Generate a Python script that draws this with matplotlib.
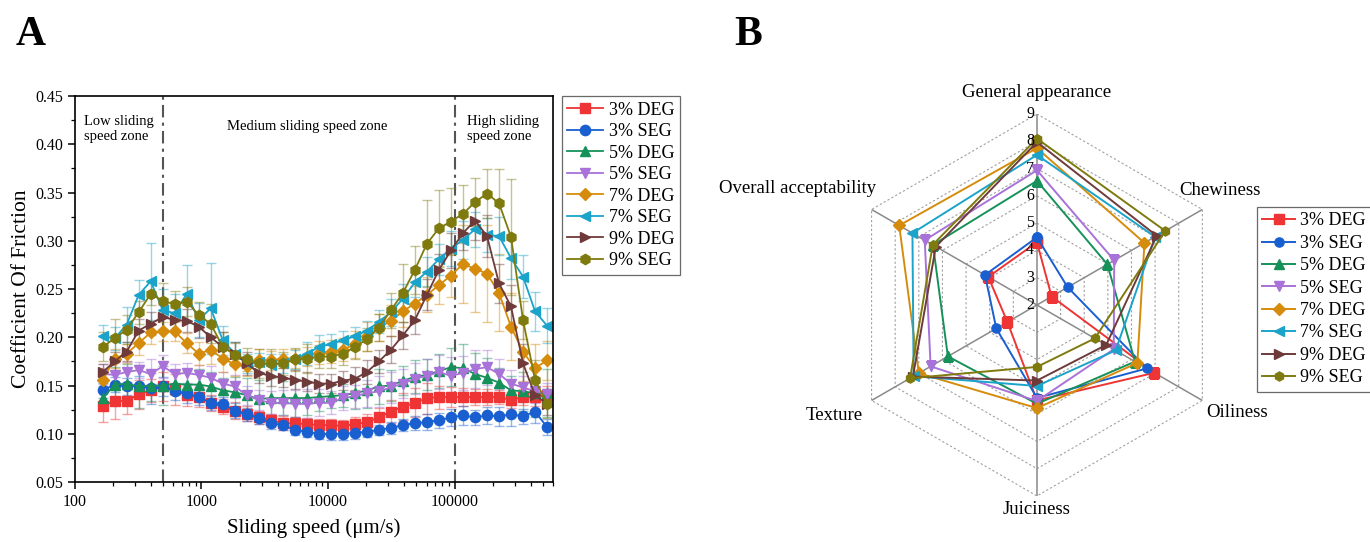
import numpy as np
import matplotlib
matplotlib.use("Agg")
import matplotlib.pyplot as plt
from matplotlib.colors import to_rgba
from matplotlib.ticker import FixedLocator, LogLocator, NullFormatter, MultipleLocator

plt.rcParams['font.family'] = ['Liberation Serif', 'DejaVu Serif']

# ---- panel A data: coefficient of friction vs sliding speed ----
speed = [166, 206, 256, 319, 397, 494, 614, 764, 951, 1183,
         1472, 1832, 2279, 2836, 3529, 4390, 5463, 6797, 8457, 10522,
         13092, 16290, 20268, 25219, 31378, 39042, 48577, 60441, 75204, 93571,
         116425, 144860, 180240, 224262, 279035, 347186, 431982, 537484]

labels = ['3% DEG', '3% SEG', '5% DEG', '5% SEG', '7% DEG', '7% SEG', '9% DEG', '9% SEG']
colors = ['#EE3434', '#1A5FD0', '#16915A', '#A872D8', '#D58C0C', '#1BA3C9', '#6E3A3A', '#7F7A0E']
markers = ['s', 'o', '^', 'v', 'D', '<', '>', 'h']

cof_3deg = [0.129, 0.134, 0.134, 0.141, 0.145, 0.149, 0.146, 0.140, 0.138, 0.132,
            0.128, 0.124, 0.121, 0.117, 0.114, 0.111, 0.111, 0.110, 0.109, 0.109,
            0.108, 0.110, 0.112, 0.117, 0.123, 0.128, 0.132, 0.137, 0.138, 0.138,
            0.138, 0.138, 0.138, 0.138, 0.135, 0.138, 0.138, 0.140]
cof_3seg = [0.145, 0.151, 0.149, 0.150, 0.147, 0.149, 0.144, 0.142, 0.138, 0.132,
            0.131, 0.124, 0.120, 0.116, 0.111, 0.109, 0.104, 0.102, 0.100, 0.100,
            0.100, 0.101, 0.102, 0.104, 0.106, 0.109, 0.111, 0.112, 0.114, 0.117,
            0.119, 0.117, 0.119, 0.118, 0.120, 0.118, 0.123, 0.107]
cof_5deg = [0.137, 0.151, 0.152, 0.149, 0.150, 0.150, 0.152, 0.151, 0.151, 0.149,
            0.145, 0.143, 0.140, 0.136, 0.137, 0.137, 0.137, 0.137, 0.138, 0.139,
            0.140, 0.142, 0.145, 0.149, 0.150, 0.155, 0.159, 0.161, 0.165, 0.169,
            0.168, 0.162, 0.158, 0.153, 0.145, 0.144, 0.142, 0.142]
cof_5seg = [0.162, 0.161, 0.164, 0.166, 0.162, 0.170, 0.162, 0.163, 0.161, 0.158,
            0.152, 0.149, 0.140, 0.135, 0.132, 0.132, 0.131, 0.131, 0.132, 0.132,
            0.137, 0.139, 0.142, 0.144, 0.148, 0.152, 0.157, 0.160, 0.164, 0.160,
            0.163, 0.167, 0.169, 0.162, 0.152, 0.148, 0.144, 0.141]
cof_7deg = [0.156, 0.178, 0.183, 0.194, 0.205, 0.206, 0.206, 0.194, 0.183, 0.187,
            0.178, 0.172, 0.170, 0.176, 0.176, 0.178, 0.178, 0.180, 0.184, 0.185,
            0.187, 0.193, 0.201, 0.210, 0.217, 0.227, 0.235, 0.244, 0.254, 0.264,
            0.276, 0.271, 0.266, 0.246, 0.211, 0.185, 0.168, 0.176]
cof_7seg = [0.201, 0.199, 0.213, 0.244, 0.258, 0.228, 0.225, 0.245, 0.218, 0.230,
            0.197, 0.183, 0.173, 0.174, 0.171, 0.173, 0.177, 0.183, 0.190, 0.193,
            0.197, 0.201, 0.207, 0.216, 0.226, 0.240, 0.257, 0.268, 0.281, 0.292,
            0.301, 0.312, 0.306, 0.305, 0.282, 0.263, 0.227, 0.212]
cof_9deg = [0.164, 0.175, 0.185, 0.207, 0.214, 0.221, 0.218, 0.217, 0.211, 0.200,
            0.190, 0.183, 0.173, 0.163, 0.160, 0.158, 0.156, 0.154, 0.152, 0.152,
            0.155, 0.157, 0.164, 0.175, 0.187, 0.202, 0.218, 0.244, 0.270, 0.290,
            0.308, 0.321, 0.305, 0.256, 0.232, 0.173, 0.140, 0.131]
cof_9seg = [0.190, 0.199, 0.208, 0.226, 0.245, 0.238, 0.234, 0.237, 0.223, 0.214,
            0.190, 0.182, 0.177, 0.173, 0.173, 0.173, 0.177, 0.178, 0.180, 0.180,
            0.183, 0.190, 0.198, 0.210, 0.228, 0.246, 0.270, 0.297, 0.313, 0.320,
            0.328, 0.340, 0.349, 0.339, 0.304, 0.218, 0.156, 0.131]

err_3deg = [0.017, 0.019, 0.014, 0.015, 0.012, 0.015, 0.016, 0.011, 0.010, 0.008,
            0.008, 0.009, 0.008, 0.007, 0.007, 0.007, 0.006, 0.006, 0.006, 0.006,
            0.006, 0.007, 0.008, 0.010, 0.012, 0.014, 0.015, 0.016, 0.012, 0.010,
            0.009, 0.008, 0.008, 0.007, 0.008, 0.008, 0.009, 0.010]
err_3seg = [0.008, 0.008, 0.009, 0.010, 0.016, 0.010, 0.009, 0.010, 0.008, 0.007,
            0.007, 0.008, 0.007, 0.006, 0.006, 0.005, 0.005, 0.005, 0.005, 0.006,
            0.006, 0.006, 0.005, 0.005, 0.006, 0.006, 0.007, 0.008, 0.008, 0.009,
            0.010, 0.008, 0.009, 0.010, 0.012, 0.008, 0.012, 0.008]
err_5deg = [0.012, 0.018, 0.020, 0.022, 0.016, 0.020, 0.012, 0.014, 0.016, 0.015,
            0.013, 0.016, 0.018, 0.020, 0.022, 0.018, 0.020, 0.018, 0.014, 0.012,
            0.012, 0.016, 0.018, 0.018, 0.016, 0.015, 0.017, 0.016, 0.018, 0.020,
            0.025, 0.022, 0.021, 0.015, 0.015, 0.020, 0.025, 0.025]
err_5seg = [0.010, 0.012, 0.010, 0.008, 0.015, 0.012, 0.010, 0.010, 0.010, 0.012,
            0.012, 0.012, 0.010, 0.010, 0.012, 0.013, 0.014, 0.015, 0.014, 0.012,
            0.012, 0.012, 0.014, 0.016, 0.016, 0.015, 0.016, 0.018, 0.018, 0.020,
            0.018, 0.020, 0.018, 0.016, 0.014, 0.012, 0.012, 0.012]
err_7deg = [0.012, 0.010, 0.010, 0.012, 0.012, 0.010, 0.010, 0.010, 0.012, 0.015,
            0.014, 0.012, 0.010, 0.012, 0.010, 0.010, 0.010, 0.010, 0.012, 0.012,
            0.012, 0.014, 0.015, 0.014, 0.016, 0.016, 0.018, 0.018, 0.020, 0.022,
            0.040, 0.045, 0.050, 0.040, 0.035, 0.030, 0.025, 0.020]
err_7seg = [0.012, 0.012, 0.018, 0.015, 0.040, 0.022, 0.020, 0.030, 0.018, 0.047,
            0.015, 0.012, 0.010, 0.010, 0.012, 0.010, 0.010, 0.012, 0.012, 0.010,
            0.010, 0.010, 0.010, 0.012, 0.014, 0.015, 0.015, 0.015, 0.016, 0.018,
            0.020, 0.018, 0.018, 0.020, 0.022, 0.022, 0.020, 0.018]
err_9deg = [0.008, 0.010, 0.010, 0.012, 0.012, 0.012, 0.012, 0.012, 0.012, 0.015,
            0.015, 0.012, 0.012, 0.010, 0.010, 0.010, 0.010, 0.010, 0.010, 0.010,
            0.010, 0.012, 0.012, 0.012, 0.014, 0.014, 0.015, 0.016, 0.016, 0.018,
            0.018, 0.020, 0.022, 0.020, 0.022, 0.020, 0.015, 0.012]
err_9seg = [0.015, 0.020, 0.015, 0.012, 0.012, 0.018, 0.014, 0.015, 0.014, 0.020,
            0.015, 0.012, 0.012, 0.015, 0.015, 0.012, 0.012, 0.015, 0.012, 0.012,
            0.012, 0.012, 0.012, 0.014, 0.018, 0.030, 0.025, 0.045, 0.040, 0.035,
            0.030, 0.025, 0.025, 0.035, 0.060, 0.020, 0.020, 0.015]

cof_all = [cof_3deg, cof_3seg, cof_5deg, cof_5seg, cof_7deg, cof_7seg, cof_9deg, cof_9seg]
err_all = [err_3deg, err_3seg, err_5deg, err_5seg, err_7deg, err_7seg, err_9deg, err_9seg]

zone_bounds = [500, 100000]

# ---- panel B data: sensory scores ----
attributes = ['General appearance', 'Chewiness', 'Oiliness', 'Juiciness', 'Texture', 'Overall acceptability']
score_3deg = [4.30, 2.62, 6.97, 5.50, 3.25, 4.06]
score_3seg = [4.48, 3.30, 6.65, 5.41, 3.72, 4.20]
score_5deg = [6.55, 4.98, 6.15, 5.62, 5.77, 6.40]
score_5seg = [6.94, 5.27, 5.25, 5.52, 6.50, 6.75]
score_7deg = [7.75, 6.55, 6.25, 5.78, 7.00, 7.83]
score_7seg = [7.50, 7.00, 5.33, 4.97, 7.22, 7.27]
score_9deg = [7.97, 7.07, 4.93, 4.77, 7.25, 6.28]
score_9seg = [8.10, 7.43, 4.45, 4.27, 7.37, 6.41]
score_all = [score_3deg, score_3seg, score_5deg, score_5seg, score_7deg, score_7seg, score_9deg, score_9seg]
radial_ticks = [2, 3, 4, 5, 6, 7, 8, 9]

fig = plt.figure(figsize=(13.7, 5.42), dpi=100)

# ================= A =================
ax = fig.add_axes([0.0547, 0.1107, 0.349, 0.712])
handles = []
for y, e, c, m, lab in zip(cof_all, err_all, colors, markers, labels):
    msize = 6.4 if m == 'D' else 7.4
    cont = ax.errorbar(speed, y, yerr=e, color=c, marker=m, markersize=msize,
                       lw=1.3, ecolor=to_rgba(c, 0.45), elinewidth=1.0,
                       capsize=3.5, capthick=1.0, label=lab)
    handles.append(cont[0])

for b in zone_bounds:
    ax.axvline(b, color='#555555', lw=1.5, ls=(0, (6, 2.5, 1.5, 2.5)), zorder=0)

ax.set_xscale('log')
ax.set_xlim(100, 600000)
ax.set_ylim(0.05, 0.45)
ax.xaxis.set_major_locator(FixedLocator([100, 1000, 10000, 100000]))
ax.set_xticklabels(['100', '1000', '10000', '100000'])
ax.xaxis.set_minor_locator(LogLocator(base=10, subs=np.arange(2, 10)))
ax.xaxis.set_minor_formatter(NullFormatter())
ax.yaxis.set_minor_locator(MultipleLocator(0.025))
ax.set_yticks(np.arange(0.05, 0.451, 0.05))
ax.set_yticklabels([f'{v:.2f}' for v in np.arange(0.05, 0.451, 0.05)])
ax.tick_params(which='major', direction='out', length=5, width=1.1, labelsize=11.5)
ax.tick_params(which='minor', direction='out', length=3, width=0.9)
for sp in ax.spines.values():
    sp.set_linewidth(1.2)
ax.set_xlabel('Sliding speed (\u03bcm/s)', fontsize=15, labelpad=6)
ax.set_ylabel('Coefficient Of Friction', fontsize=15.5, labelpad=3)

ax.text(118, 0.4157, 'Low sliding\nspeed zone', fontsize=10.5, ha='left', va='center', linespacing=1.25)
ax.text(6800, 0.418, 'Medium sliding speed zone', fontsize=10.5, ha='center', va='center')
ax.text(125000, 0.4157, 'High sliding\nspeed zone', fontsize=10.5, ha='left', va='center', linespacing=1.25)

leg = ax.legend(handles=handles, labels=labels, loc='upper left', bbox_to_anchor=(1.018, 1.0),
                fontsize=13, frameon=True, fancybox=False, edgecolor='#444444',
                borderpad=0.3, labelspacing=0.25, handlelength=2.0, handletextpad=0.3,
                borderaxespad=0)
leg.get_frame().set_linewidth(0.9)

fig.text(0.022, 0.935, 'A', fontsize=30, fontweight='bold', ha='center', va='center')
fig.text(0.546, 0.935, 'B', fontsize=30, fontweight='bold', ha='center', va='center')

# ================= B =================
ax2 = fig.add_axes([0.6175, 0.0849, 0.2788, 0.7048], projection='polar')
ax2.set_theta_zero_location('N')
ax2.set_theta_direction(-1)
ax2.set_ylim(2, 9)
ax2.set_xticks([])
ax2.set_yticks([])
ax2.grid(False)
ax2.spines['polar'].set_visible(False)
ax2.patch.set_alpha(0)

angles = np.deg2rad(np.arange(len(attributes)) * 60.0)
closed = np.append(angles, angles[0])

for v in radial_ticks[1:]:
    ax2.plot(closed, [v] * len(closed), color='#a0a0a0', lw=0.8, ls=(0, (2, 2)), zorder=1)
for a in angles:
    ax2.plot([a, a], [2, 9], color='#8a8a8a', lw=1.1, zorder=1)
for v in radial_ticks:
    ax2.annotate(str(v), xy=(0, v), xytext=(-2, 0), textcoords='offset points',
                 ha='right', va='center', fontsize=11.5, zorder=5)

radar_handles = []
for s, c, m, lab in zip(score_all, colors, markers, labels):
    vals = np.append(s, s[0])
    msize = 5.8 if m == 'D' else 6.6
    ln, = ax2.plot(closed, vals, color=c, marker=m, markersize=msize, lw=1.4, label=lab, zorder=3)
    radar_handles.append(ln)

# label placement (theta deg, r, ha)
label_pos = [(0, 9.79, 'center'), (51.2, 8.71, 'left'), (122.4, 9.37, 'left'),
             (180, 9.5, 'center'), (237.6, 9.58, 'right'), (306, 9.28, 'right')]
for name, (th, r, ha) in zip(attributes, label_pos):
    ax2.text(np.deg2rad(th), r, name, ha=ha, va='center', fontsize=13.5, clip_on=False)

leg2 = fig.legend(handles=radar_handles, labels=labels, loc='upper left',
                  bbox_to_anchor=(0.9175, 0.6181), fontsize=13, frameon=True, fancybox=False,
                  edgecolor='#444444', borderpad=0.3, labelspacing=0.3, handlelength=1.8,
                  handletextpad=0.3, borderaxespad=0)
leg2.get_frame().set_linewidth(0.9)

fig.savefig('out.png', dpi=100)
